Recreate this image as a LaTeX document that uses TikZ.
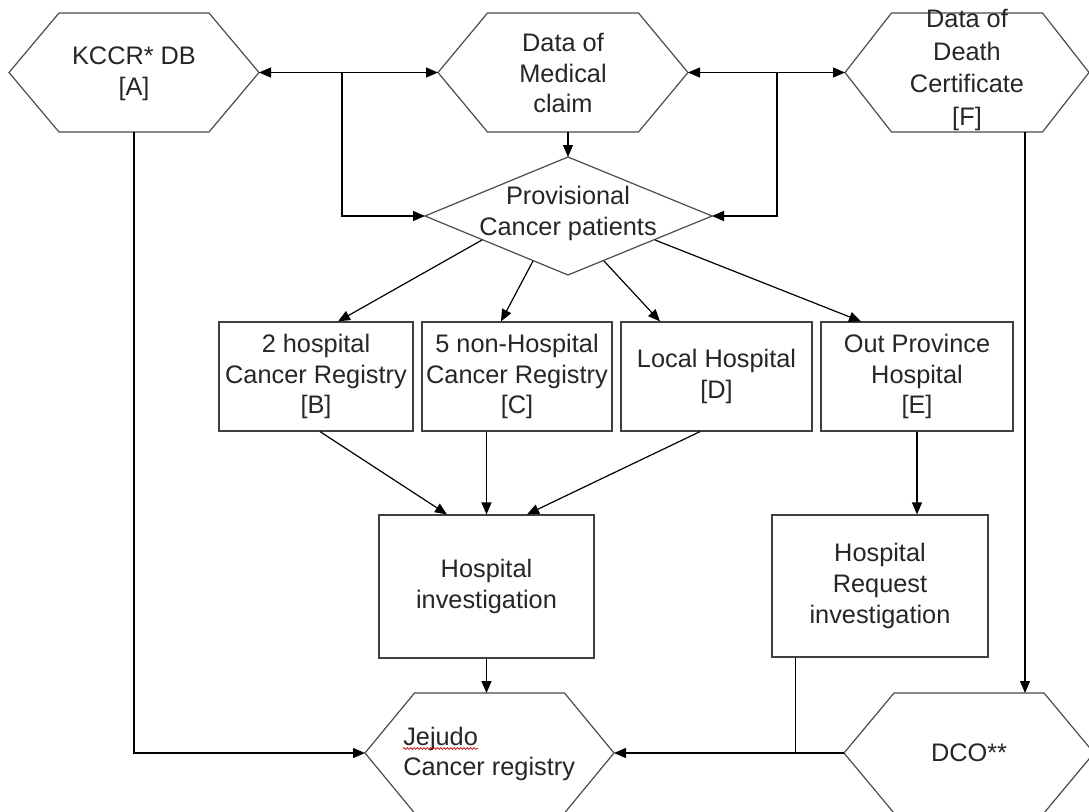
\documentclass[tikz,border=0pt]{standalone}
\usepackage{fontspec}
\setmainfont{Liberation Sans}
\usetikzlibrary{arrows.meta,calc,decorations.pathmorphing}
\newcommand\hexshape[6]{%
  \coordinate (#1) at (#2,#3);
  \coordinate (#1-L) at ({#2-#4},#3);
  \coordinate (#1-R) at ({#2+#4},#3);
  \coordinate (#1-T) at (#2,{#3-#6});
  \coordinate (#1-B) at (#2,{#3+#6});
  \draw[shapeline] (#1-L) -- ({#2-#5},{#3-#6}) -- ({#2+#5},{#3-#6}) -- (#1-R)
     -- ({#2+#5},{#3+#6}) -- ({#2-#5},{#3+#6}) -- cycle;
}
\begin{document}
\begin{tikzpicture}[x=0.75pt,y=-0.75pt,
  shapeline/.style={draw=black!70,line width=0.9pt},
  arr/.style={-{Triangle[length=9pt,width=7.5pt]},line width=0.9pt,draw=black},
  conn/.style={line width=0.9pt,draw=black},
  txt/.style={align=center,inner sep=0pt,text=black!85,font=\fontsize{19}{23}\selectfont},
  box/.style={draw=black!75,line width=0.9pt,rectangle,align=center,inner sep=2pt,text=black!85,font=\fontsize{19}{23}\selectfont},
]
\useasboundingbox (0,0) rectangle (1089,811);
\clip (0,0) rectangle (1089,811);
\fill[white] (0,0) rectangle (1089,811);

% hexagons
\hexshape{kccr}{134}{72.5}{125}{75}{59.5}
\hexshape{med}{563}{72.5}{125}{75.5}{59.5}
\hexshape{dth}{967}{72.5}{122}{75.5}{59.5}
\hexshape{jeju}{489.5}{753}{124.5}{75}{60}
\hexshape{dco}{969}{753}{125}{75}{60}

\node[txt] (kccrtxt) at (134,74) {KCCR* DB\\{[A]}};
\node[txt] (medtxt) at (563,73) {Data of\\Medical\\claim};
\node[txt,font=\fontsize{19}{24.5}\selectfont] (dthtxt) at (967,70) {Data of\\Death\\Certificate\\{[F]}};
\node[txt] (dcotxt) at (969,753) {DCO**};
\node[txt,anchor=base west] (jt1) at (403,745) {Jejudo};
\node[txt,anchor=base west] (jt2) at (403,775) {Cancer registry};
\draw[red!80!black,line width=0.5pt,decorate,decoration={snake,amplitude=0.7pt,segment length=2.5pt}]
  ($(jt1.base west)+(0,3.5)$) -- ($(jt1.base east)+(0,3.5)$);

% diamond
\coordinate (dia-T) at (568,157);
\coordinate (dia-R) at (712,216);
\coordinate (dia-B) at (568,275);
\coordinate (dia-L) at (425,216);
\draw[shapeline] (dia-T) -- (dia-R) -- (dia-B) -- (dia-L) -- cycle;
\node[txt] (dia) at (568,213.5) {Provisional\\Cancer patients};

% row of boxes
\node[box,minimum width=194*0.75pt,minimum height=109*0.75pt] (B) at (316,376.5) {2 hospital\\Cancer Registry\\{[B]}};
\node[box,minimum width=190*0.75pt,minimum height=109*0.75pt] (C) at (517,376.5) {5 non-Hospital\\Cancer Registry\\{[C]}};
\node[box,minimum width=191*0.75pt,minimum height=109*0.75pt] (D) at (716.5,376.5) {Local Hospital\\{[D]}};
\node[box,minimum width=192*0.75pt,minimum height=109*0.75pt] (E) at (917,376.5) {Out Province\\Hospital\\{[E]}};

\node[box,minimum width=215*0.75pt,minimum height=143*0.75pt] (HI) at (486.5,586.5) {Hospital\\investigation};
\node[box,minimum width=216*0.75pt,minimum height=142*0.75pt] (RQ) at (880,586) {Hospital\\Request\\investigation};

% top connectors
\coordinate (j1) at (342,72.5);
\coordinate (j2) at (777,72.5);
\draw[arr] (j1) -- (kccr-R);
\draw[arr] (j1) -- (med-L);
\draw[arr] (j1) |- (dia-L);
\draw[arr] (j2) -- (med-R);
\draw[arr] (j2) -- (dth-L);
\draw[arr] (j2) |- (dia-R);
\draw[arr] (dia-T |- med-B) -- (dia-T);

% diamond to boxes
\coordinate (d1) at (482,240);
\coordinate (d2) at (533,261);
\coordinate (d3) at (604,261);
\coordinate (d4) at (655,240);
\draw[arr] (d1) -- ($(B.north)+(22,0)$);
\draw[arr] (d2) -- ($(C.north)+(-16,0)$);
\draw[arr] (d3) -- ($(D.north)+(-56.5,0)$);
\draw[arr] (d4) -- ($(E.north)+(-56,0)$);

% boxes to investigations
\draw[arr] ($(B.south)+(4,0)$) -- ($(HI.north)+(-39.5,0)$);
\draw[arr] (C.south -| HI.north) -- (HI.north);
\draw[arr] ($(D.south)+(-16.5,0)$) -- ($(HI.north)+(40.5,0)$);
\draw[arr] (E.south) -- (E.south |- RQ.north);

% to Jeju
\draw[arr] (HI.south) -- (HI.south |- jeju-T);
\draw[arr] (kccr-B) |- (jeju-L);
\draw[arr] (dco-L) -- (jeju-R);
\coordinate (rq1) at ($(RQ.south west)+(24,0)$);
\draw[conn] (rq1) -- (rq1 |- jeju-L);

% death certificate to DCO
\coordinate (dthd) at ($(dth-B)+(58,0)$);
\draw[arr] (dthd) -- (dthd |- dco-T);
\end{tikzpicture}
\end{document}
